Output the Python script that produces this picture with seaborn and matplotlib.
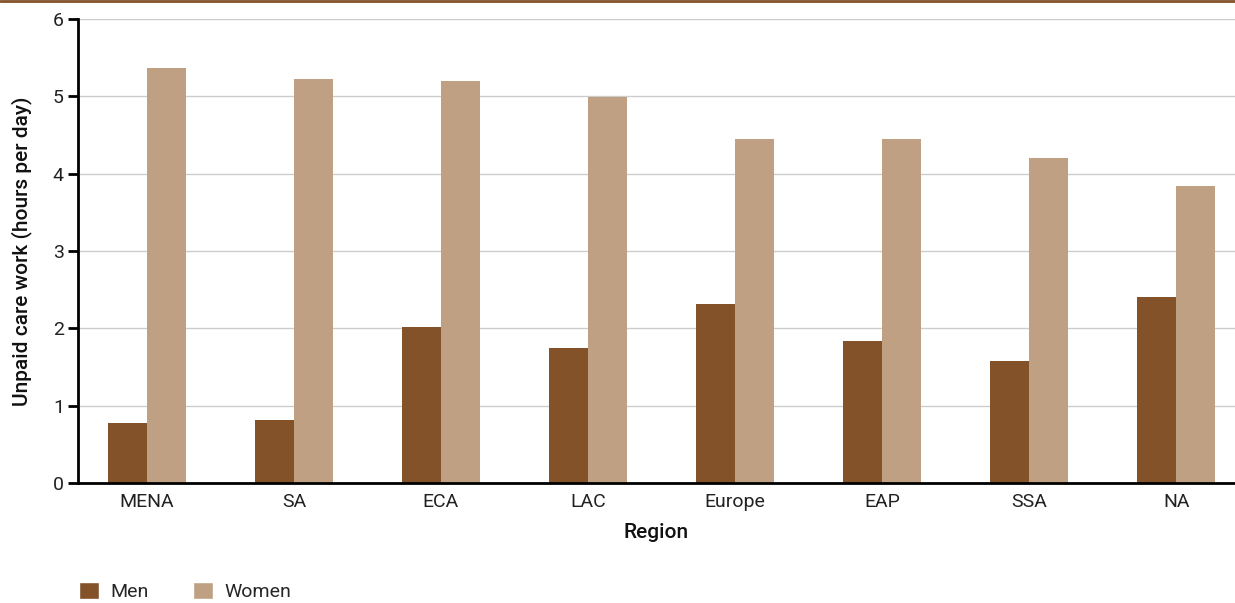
import matplotlib
matplotlib.use("Agg")
import matplotlib.pyplot as plt
import seaborn as sns
import pandas as pd
from matplotlib.patches import Patch

regions = ["MENA", "SA", "ECA", "LAC", "Europe", "EAP", "SSA", "NA"]
men = [0.78, 0.81, 2.02, 1.75, 2.31, 1.84, 1.58, 2.41]
women = [5.37, 5.23, 5.20, 4.99, 4.45, 4.45, 4.20, 3.84]
yticks = [0, 1, 2, 3, 4, 5, 6]

MEN_C = "#835229"
WOMEN_C = "#BFA083"

df = pd.DataFrame({
    "Region": regions * 2,
    "Hours": men + women,
    "Sex": ["Men"] * len(regions) + ["Women"] * len(regions),
})

sns.set_theme(style="white")
plt.rcParams['font.family'] = ['Roboto', 'DejaVu Sans']

fig = plt.figure(figsize=(12.35, 6.03), dpi=100)
ax = fig.add_axes([0.063, 0.199, 0.937, 0.7695])

sns.barplot(data=df, x="Region", y="Hours", hue="Sex", order=regions,
            palette={"Men": MEN_C, "Women": WOMEN_C}, width=0.53,
            saturation=1, linewidth=0, ax=ax, legend=False)

ax.set_ylim(0, 6)
ax.set_xlim(-0.47, 7.4)
ax.set_yticks(yticks)
ax.yaxis.grid(True, color="#cccccc", linewidth=1)
ax.set_axisbelow(True)
for s in ["top", "right"]:
    ax.spines[s].set_visible(False)
for s in ["left", "bottom"]:
    ax.spines[s].set_color("black")
    ax.spines[s].set_linewidth(2)
ax.tick_params(axis="y", which="both", left=True, length=7, width=2, color="black",
               labelsize=14, pad=3, labelcolor="#222222")
ax.tick_params(axis="x", bottom=False, labelsize=14, pad=1, labelcolor="#222222")
ax.set_ylabel("Unpaid care work (hours per day)", fontsize=15, fontweight="medium", labelpad=15, color="#111111")
ax.set_xlabel("Region", fontsize=15, fontweight="medium", labelpad=9, color="#111111")

# top brown rule
fig.add_artist(plt.Line2D([0, 1], [0.9985, 0.9985], transform=fig.transFigure,
                          color="#835229", linewidth=2))

handles = [Patch(facecolor=MEN_C, label="Men"), Patch(facecolor=WOMEN_C, label="Women")]
fig.legend(handles=handles, loc="lower left", bbox_to_anchor=(0.050, -0.026), ncol=2,
           frameon=False, fontsize=14, handlelength=1.0, handleheight=1.0,
           columnspacing=2.3, handletextpad=0.6)

fig.savefig("out.png", dpi=100)
